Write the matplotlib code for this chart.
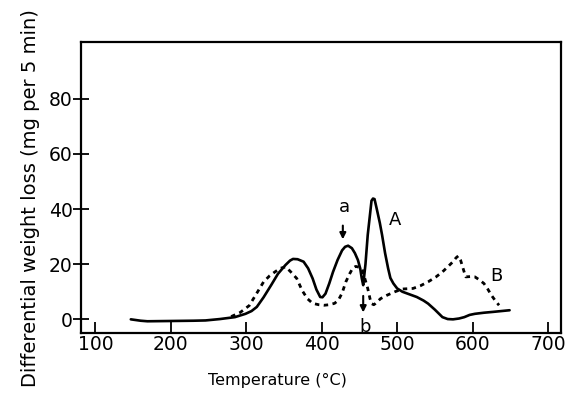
import matplotlib
matplotlib.use("Agg")
import matplotlib.pyplot as plt

# Curve A (solid)
temp_a = [147, 160, 169, 200, 230, 246, 265, 285, 299, 307, 314, 323, 333, 342, 352, 358,
          362, 368, 376, 382, 388, 393, 398, 401, 405, 410, 415, 421, 427, 431, 435, 440,
          444, 448, 451, 453, 455, 458, 461, 464, 466, 468, 470, 473, 477, 480, 484, 488,
          491, 495, 500, 507, 515, 526, 535, 541, 550, 560, 567, 574, 582, 589, 596, 603,
          615, 627, 649]
loss_a = [0.0, -0.5, -0.7, -0.6, -0.5, -0.4, 0.1, 0.8, 2.0, 3.0, 4.5, 8.0, 12.4, 16.5, 19.7, 21.3,
          21.9, 21.8, 20.9, 18.5, 14.8, 10.8, 8.1, 8.0, 9.3, 13.0, 17.2, 21.5, 25.0, 26.3, 26.7, 25.8,
          24.0, 21.5, 18.5, 15.0, 12.4, 20.0, 30.6, 38.0, 43.0, 43.8, 43.6, 40.0, 35.0, 30.6, 24.0, 18.5,
          15.0, 13.0, 11.2, 10.0, 9.2, 8.1, 6.8, 5.7, 3.5, 0.8, 0.1, 0.0, 0.3, 0.8, 1.6, 2.0,
          2.4, 2.7, 3.3]

# Curve B (dotted)
temp_b = [280, 292, 304, 314, 323, 331, 338, 345, 352, 358, 367, 374, 381, 388, 396, 403,
          410, 417, 422, 427, 432, 437, 441, 445, 448, 451, 454, 458, 461, 464, 466, 469,
          471, 478, 487, 497, 507, 521, 531, 541, 551, 560, 568, 574, 578, 581, 584, 586,
          589, 591, 597, 603, 609, 615, 620, 625, 630, 635]
loss_b = [1.0, 2.5, 5.0, 9.5, 13.6, 15.8, 17.2, 18.5, 19.0, 17.5, 14.8, 10.5, 7.5, 5.8, 5.3, 5.1,
          5.3, 5.8, 6.9, 9.5, 13.6, 16.5, 18.5, 19.2, 19.0, 18.8, 17.8, 14.0, 11.2, 7.5, 5.7, 5.3,
          5.7, 7.5, 8.8, 10.0, 11.0, 11.2, 12.2, 13.6, 15.3, 17.2, 19.3, 20.9, 22.3, 23.0, 21.5, 19.7,
          17.0, 15.4, 15.5, 15.4, 14.3, 13.0, 11.0, 8.7, 6.8, 5.1]

xticks = [100, 200, 300, 400, 500, 600, 700]
yticks = [0, 20, 40, 60, 80]

plt.rcParams['font.family'] = ['DejaVu Sans']

fig = plt.figure(figsize=(5.72, 3.98), dpi=100)
ax = fig.add_axes([0.1416, 0.163, 0.839, 0.731])

ax.plot(temp_a, loss_a, color='black', lw=1.9, solid_capstyle='round', solid_joinstyle='round')
ax.plot(temp_b, loss_b, color='black', lw=2.0, linestyle=(0, (1.6, 1.6)))

ax.set_xlim(81, 717)
ax.set_ylim(-5, 100.5)
ax.set_xticks(xticks)
ax.set_yticks(yticks)
ax.tick_params(axis='x', direction='in', length=8, width=1.3, labelsize=13.5, pad=1)
ax.tick_params(axis='y', direction='inout', length=12, width=1.3, labelsize=13.5, pad=0)
for s in ax.spines.values():
    s.set_linewidth(1.6)

ax.annotate('', xy=(428, 28.0), xytext=(428, 35.0),
            arrowprops=dict(arrowstyle='-|>', color='black', lw=1.5, mutation_scale=9))
ax.text(430, 37.5, 'a', fontsize=13, ha='center', va='bottom')
ax.annotate('', xy=(455, 1.5), xytext=(455, 9.5),
            arrowprops=dict(arrowstyle='-|>', color='black', lw=1.5, mutation_scale=9))
ax.text(458, -2.8, 'b', fontsize=13, ha='center', va='center')
ax.text(497, 36, 'A', fontsize=13, ha='center', va='center')
ax.text(632, 15.8, 'B', fontsize=13, ha='center', va='center')

ax.set_xlabel('Temperature (°C)', fontsize=11.5, x=0.41, labelpad=14)
ax.set_ylabel('Differential weight loss (mg per 5 min)', fontsize=14, y=0.464, labelpad=6)

fig.savefig('out.png', dpi=100)
